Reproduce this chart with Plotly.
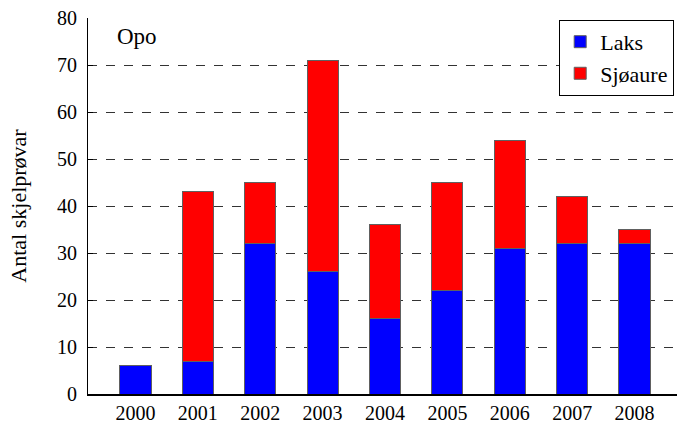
import plotly.graph_objects as go

years = [2000, 2001, 2002, 2003, 2004, 2005, 2006, 2007, 2008]
laks = [6, 7, 32, 26, 16, 22, 31, 32, 32]
sjoaure = [0, 36, 13, 45, 20, 23, 23, 10, 3]
y_ticks = [0, 10, 20, 30, 40, 50, 60, 70, 80]

font = "Liberation Serif"

fig = go.Figure()
fig.add_trace(go.Bar(x=years, y=laks, name="Laks", width=0.5,
                     marker=dict(color="#0000ff", line=dict(color="#606060", width=1))))
fig.add_trace(go.Bar(x=years, y=sjoaure, name="Sjøaure", width=0.5,
                     marker=dict(color="#ff0000", line=dict(color="#606060", width=1))))

fig.update_layout(
    barmode="stack",
    width=677, height=424,
    margin=dict(l=88, r=0, t=18, b=30),
    paper_bgcolor="white", plot_bgcolor="white",
    font=dict(family=font, size=20, color="black"),
    showlegend=True,
    legend=dict(x=0.80, y=0.995, xanchor="left", yanchor="top",
                bgcolor="white", bordercolor="black", borderwidth=1,
                font=dict(size=22, family=font), tracegroupgap=0,
                traceorder="normal"),
    xaxis=dict(range=[1999.24, 2008.68], tickvals=years, ticktext=[str(y) for y in years],
               showgrid=False, showline=True, linecolor="black", linewidth=1.5,
               ticks="", zeroline=False, tickfont=dict(size=20, family=font)),
    yaxis=dict(range=[0, 80], tickvals=y_ticks, showgrid=True, gridcolor="#333333",
               griddash="dash", gridwidth=1, showline=True, linecolor="black",
               linewidth=1, ticks="inside", ticklen=5, tickcolor="black",
               ticklabelstandoff=6,
               zeroline=False, tickfont=dict(size=20, family=font),
               title=dict(text="Antal skjelprøvar", font=dict(size=22, family=font), standoff=24)),
    annotations=[dict(text="Opo", x=0.045, y=0.99, xref="paper", yref="paper",
                      xanchor="left", yanchor="top", showarrow=False,
                      font=dict(size=23, family=font))],
)

fig.write_html("out.html", config={"displayModeBar": False})
with open("out.html", "r", encoding="utf-8") as f:
    html = f.read()
html = html.replace("<body>", "<body style=\"margin:0;padding:0;\">", 1)
with open("out.html", "w", encoding="utf-8") as f:
    f.write(html)
